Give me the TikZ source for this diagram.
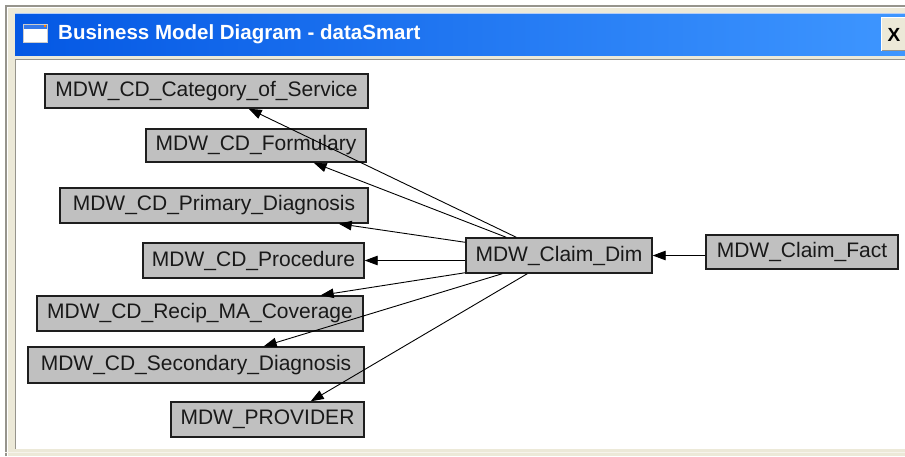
\documentclass[tikz,border=0pt]{standalone}
\usepackage{fontspec}
\setmainfont{Liberation Sans}
\usetikzlibrary{arrows.meta}
\definecolor{xpbeige}{RGB}{236,233,216}
\definecolor{framegray}{RGB}{150,148,140}
\definecolor{xpblueL}{RGB}{4,88,228}
\definecolor{xpblueR}{RGB}{62,150,255}
\definecolor{boxgray}{RGB}{192,192,192}
\definecolor{boxline}{RGB}{30,30,30}
\begin{document}
\begin{tikzpicture}[x=1pt,y=-1pt,
  entity/.style={draw=boxline, line width=1.4pt, fill=boxgray, inner sep=0pt,
    text=black!90, font=\fontsize{21}{25}\selectfont},
  conn/.style={draw=black, line width=0.9pt, -{Triangle[length=13pt,width=9.5pt]}}]
\useasboundingbox (0,0) rectangle (905,456);
\fill[white] (0,0) rectangle (905,456);

% window frame
\fill[xpbeige] (5,5) rectangle (905,456);
\draw[framegray, line width=1.5pt] (5.75,456) -- (5.75,5.75) -- (905,5.75);
\draw[white, line width=1pt] (7.5,456) -- (7.5,7.5) -- (905,7.5);

% title bar
\shade[left color=xpblueL, right color=xpblueR] (15,13) rectangle (905,55);
\draw[white!70!xpblueL, line width=1pt] (15,13.5) -- (905,13.5);
\fill[white] (23,24) rectangle (47,42);
\fill[xpblueL!80!white] (23,24) rectangle (47,28.5);
\fill[orange] (44,24.5) rectangle (46,26.5);
\draw[white!60!gray, line width=0.6pt] (23,24) rectangle (47,42);
\node[anchor=west, text=white, font=\fontsize{20.5}{24}\selectfont\bfseries, inner sep=0pt]
  (title) at (58,34) {Business Model Diagram - dataSmart};

% close button
\fill[xpbeige] (881,17) rectangle (905,51);
\draw[white, line width=1pt] (881.5,51) -- (881.5,17.5) -- (905,17.5);
\draw[framegray, line width=1pt] (881.5,50.5) -- (905,50.5);
\node[font=\fontsize{19}{22}\selectfont\bfseries, inner sep=0pt] (close) at (894,35) {X};

% drawing area
\fill[white] (16,59) rectangle (905,449);
\draw[framegray, line width=1.2pt] (15.6,449) -- (15.6,59.6) -- (905,59.6);
\draw[white!50!xpbeige, line width=1pt] (5,452.5) -- (905,452.5);

% tables
\node[entity, minimum width=323pt, minimum height=34pt] (cat)   at (206.5,91)   {MDW\_CD\_Category\_of\_Service};
\node[entity, minimum width=220pt, minimum height=33pt] (form)  at (256,145.5)  {MDW\_CD\_Formulary};
\node[entity, minimum width=308pt, minimum height=35pt] (prim)  at (214,205.5)  {MDW\_CD\_Primary\_Diagnosis};
\node[entity, minimum width=221pt, minimum height=35pt] (proc)  at (253.5,260.5) {MDW\_CD\_Procedure};
\node[entity, minimum width=326pt, minimum height=35pt] (recip) at (200,313.5)  {MDW\_CD\_Recip\_MA\_Coverage};
\node[entity, minimum width=336pt, minimum height=36pt] (sec)   at (196,365)    {MDW\_CD\_Secondary\_Diagnosis};
\node[entity, minimum width=193pt, minimum height=35pt] (prov)  at (267.5,419.5) {MDW\_PROVIDER};
\node[entity, minimum width=186pt, minimum height=35pt] (dim)   at (559,255.5)  {MDW\_Claim\_Dim};
\node[entity, minimum width=192pt, minimum height=34pt] (fact)  at (802,252)    {MDW\_Claim\_Fact};

% references
\draw[conn] ([xshift=51pt]dim.north west) -- ([xshift=-120pt]cat.south east);
\draw[conn] ([xshift=41pt]dim.north west) -- ([xshift=-53pt]form.south east);
\draw[conn] ([yshift=-5pt]dim.north west) -- ([xshift=-30pt]prim.south east);
\draw[conn] (proc.east -| dim.west) -- (proc.east);
\draw[conn] ([yshift=1pt]dim.south west) -- ([xshift=-43pt]recip.north east);
\draw[conn] ([xshift=37pt]dim.south west) -- ([xshift=-101pt]sec.north east);
\draw[conn] ([xshift=62pt]dim.south west) -- ([xshift=-54pt]prov.north east);
\draw[conn] (fact.west |- dim.east) -- (dim.east);
\end{tikzpicture}
\end{document}
